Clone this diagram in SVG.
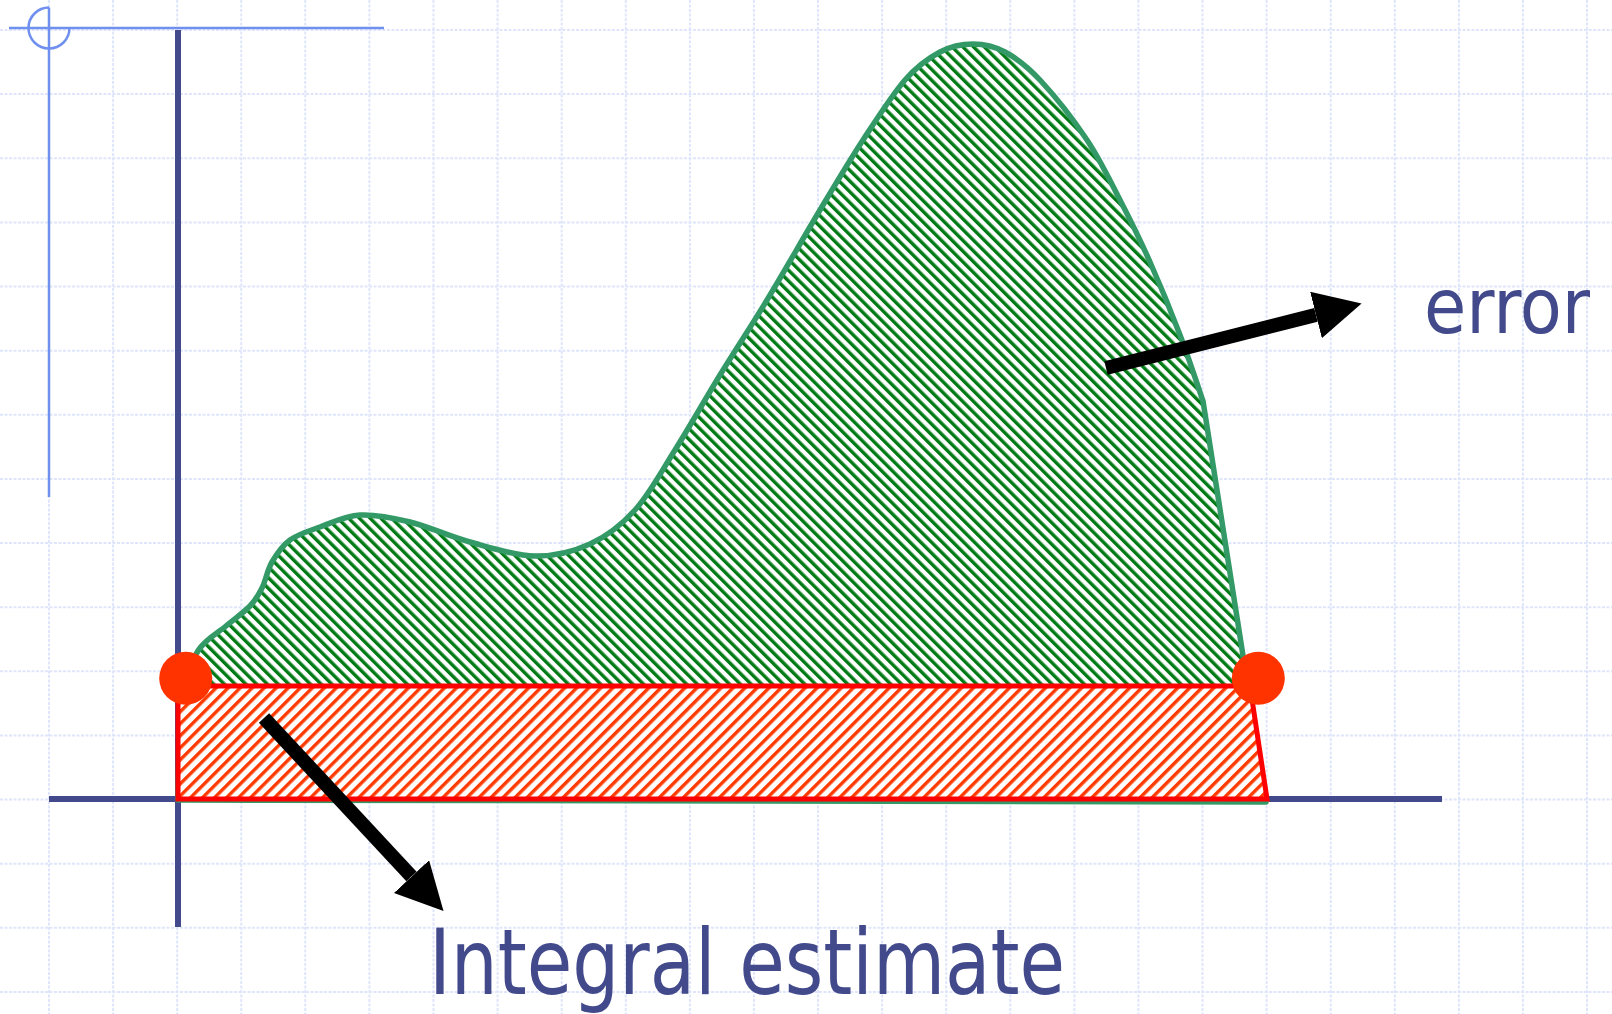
<svg xmlns="http://www.w3.org/2000/svg" width="1612" height="1014" viewBox="0 0 1612 1014">
  <style>
    .grid { stroke: #dfe6fb; stroke-width: 2; stroke-dasharray: 3 1.5; fill: none; }
    .guide { stroke: #7090f0; stroke-width: 2.5; fill: none; }
    .axis { stroke: #424a8c; stroke-width: 6; fill: none; }
    .label { font-family: "DejaVu Sans Condensed", "DejaVu Sans", "Liberation Sans", sans-serif; fill: #424a8c; }
    .arrow { stroke: #000; stroke-width: 14; fill: none; marker-end: url(#head); }
    .dot { fill: #ff3300; }
  </style>
  <defs>
    <pattern id="hatchGreen" patternUnits="userSpaceOnUse" width="7.6" height="7.6" patternTransform="rotate(-45)">
      <rect width="7.6" height="7.6" fill="#ffffff"/>
      <rect x="0" y="0" width="3.4" height="7.6" fill="#007a14"/>
    </pattern>
    <pattern id="hatchRed" patternUnits="userSpaceOnUse" width="8.5" height="8.5" patternTransform="rotate(45)">
      <rect width="8.5" height="8.5" fill="#ffffff"/>
      <rect x="0" y="0" width="3.4" height="8.5" fill="#ff3a00"/>
    </pattern>
    <marker id="head" markerUnits="userSpaceOnUse" viewBox="0 0 47 48" markerWidth="47" markerHeight="48" refX="0" refY="24" orient="auto">
      <path d="M0,0 L47,24 L0,48 Z" fill="#000"/>
    </marker>
  </defs>

  <rect width="1612" height="1014" fill="#ffffff"/>

  <g id="grid">
    <path class="grid" d="M-15,0V1014 M49,0V1014 M113.1,0V1014 M177.2,0V1014 M241.3,0V1014 M305.3,0V1014 M369.4,0V1014 M433.5,0V1014 M497.6,0V1014 M561.7,0V1014 M625.8,0V1014 M689.9,0V1014 M753.9,0V1014 M818,0V1014 M882.1,0V1014 M946.2,0V1014 M1010.3,0V1014 M1074.4,0V1014 M1138.4,0V1014 M1202.5,0V1014 M1266.6,0V1014 M1330.7,0V1014 M1394.8,0V1014 M1458.9,0V1014 M1522.9,0V1014 M1587,0V1014"/>
    <path class="grid" d="M0,30H1612 M0,94.1H1612 M0,158.3H1612 M0,222.4H1612 M0,286.5H1612 M0,350.7H1612 M0,414.8H1612 M0,478.9H1612 M0,543H1612 M0,607.2H1612 M0,671.3H1612 M0,735.4H1612 M0,799.6H1612 M0,863.7H1612 M0,927.8H1612 M0,992H1612"/>
  </g>

  <g id="guides">
    <path class="guide" d="M9,28H384"/>
    <path class="guide" d="M49,7.5V497"/>
    <path class="guide" d="M49,7.5 A20.5,20.5 0 1,0 69.5,28"/>
  </g>

  <g id="axes">
    <path class="axis" d="M178,30V927"/>
    <path class="axis" d="M49,799H1442"/>
  </g>

  <g id="error-area">
    <path fill="url(#hatchGreen)" stroke="#339966" stroke-width="5.5" stroke-linejoin="round"
      d="M180,688 C183.3,681.3 192.3,658.3 200,648 C207.7,637.7 217.7,633 226,626 C234.3,619 244,612.3 250,606 C256,599.7 258.3,595.3 262,588 C265.7,580.7 267.3,570 272,562 C276.7,554 282,545.8 290,540 C298,534.2 308.3,531.2 320,527 C331.7,522.8 345,515.8 360,515 C375,514.2 391.7,517.5 410,522 C428.3,526.5 449.2,536.3 470,542 C490.8,547.7 515,555.7 535,556 C555,556.3 573.3,551.7 590,544 C606.7,536.3 620.8,525.7 635,510 C649.2,494.3 660.8,472.5 675,450 C689.2,427.5 704.7,400 720,375 C735.3,350 750.3,327.5 767,300 C783.7,272.5 804,236.7 820,210 C836,183.3 848.8,161.7 863,140 C877.2,118.3 892.2,94.7 905,80 C917.8,65.3 928.7,58 940,52 C951.3,46 962.2,44 973,44 C983.8,44 993.8,46 1005,52 C1016.2,58 1026.3,65.3 1040,80 C1053.7,94.7 1073.7,120 1087,140 C1100.3,160 1109.5,179.7 1120,200 C1130.5,220.3 1140,239.5 1150,262 C1160,284.5 1171.2,311.8 1180,335 C1188.8,358.2 1199.2,390 1203,401 L1266,802 L178,800 Z"/>
  </g>

  <g id="integral-estimate-area">
    <path fill="url(#hatchRed)" stroke="#ff0000" stroke-width="5" stroke-linejoin="miter"
      d="M178,686 L1250,686 L1267,799 L178,799 Z"/>
  </g>

  <g id="point-left">
    <circle class="dot" cx="185.7" cy="678.3" r="26.5"/>
  </g>
  <g id="point-right">
    <circle class="dot" cx="1258.3" cy="678.3" r="26.5"/>
  </g>

  <g id="connectors">
    <line class="arrow" x1="1106" y1="368" x2="1316" y2="314.9"/>
    <line class="arrow" x1="264" y1="718" x2="411.5" y2="876.6"/>
  </g>

  <g id="label-error">
    <text class="label" x="1424" y="333" font-size="76" textLength="166" lengthAdjust="spacingAndGlyphs">error</text>
  </g>
  <g id="label-integral">
    <text class="label" x="429" y="994" font-size="90" textLength="636" lengthAdjust="spacingAndGlyphs">Integral estimate</text>
  </g>
</svg>
